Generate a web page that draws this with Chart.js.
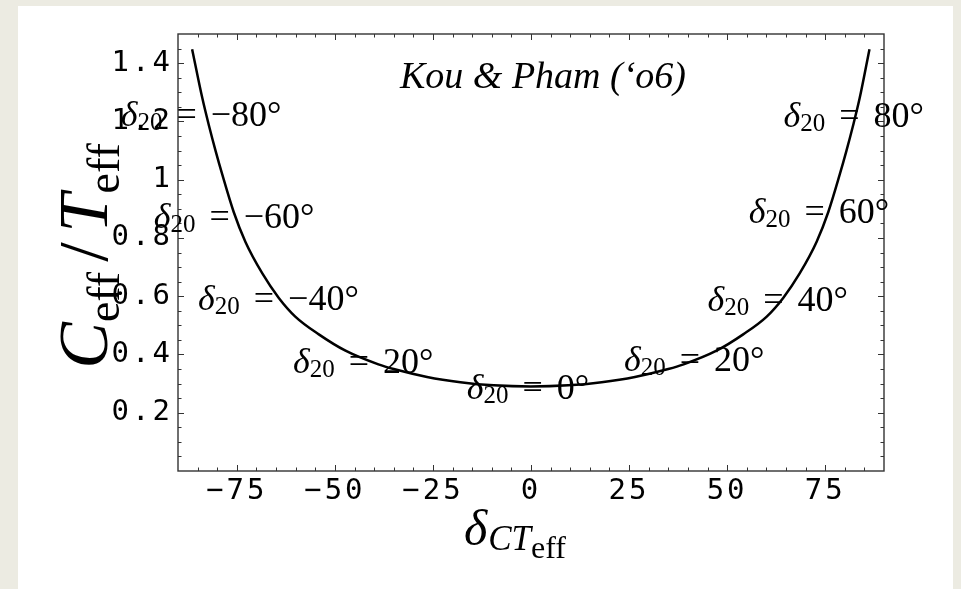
<!DOCTYPE html>
<html>
<head>
<meta charset="utf-8">
<script src="https://cdn.jsdelivr.net/npm/chart.js@4.4.0/dist/chart.umd.min.js"></script>
<style>
  html, body { margin: 0; padding: 0; background: #ecebe2; }
  #wrap { position: relative; width: 961px; height: 589px; overflow: hidden; }
  #panel { position: absolute; left: 18px; top: 6px; width: 935px; height: 583px; background: #fff; }
  canvas { position: absolute; left: 0; top: 0; }
</style>
</head>
<body>
<div id="wrap">
  <div id="panel"></div>
  <canvas id="chart" width="961" height="589"></canvas>
</div>
<script>
// --- curve ---
const deltaCT = [-86.4, -83.8, -82.1, -80.4, -78.7, -75.8, -72.8, -68.5, -64.3, -60.1, -54.1, -47.3, -38.9, -35.0, -26.5, -18.0, -9.5,
                 0, 9.5, 18.0, 26.5, 35.0, 38.9, 47.3, 54.1, 60.1, 64.3, 68.5, 72.8, 75.8, 78.7, 80.4, 82.1, 83.8, 86.3];
const ratio = [1.448, 1.280, 1.185, 1.098, 1.017, 0.889, 0.786, 0.678, 0.594, 0.530, 0.469, 0.413, 0.366, 0.350, 0.323, 0.305, 0.294,
               0.290, 0.294, 0.305, 0.323, 0.350, 0.366, 0.413, 0.469, 0.530, 0.594, 0.678, 0.786, 0.889, 1.017, 1.098, 1.185, 1.280, 1.448];

// --- delta_20 annotations (centre of each label, in data units) ---
const labelX = [-84.1, -75.7, -64.4, -42.8, -0.8, 41.6, 62.9, 73.4, 82.3];
const labelY = [1.224, 0.876, 0.595, 0.379, 0.288, 0.383, 0.591, 0.893, 1.221];
const labelText = ['\u221280\u00b0', '\u221260\u00b0', '\u221240\u00b0', '20\u00b0', '0\u00b0', '20\u00b0', '40\u00b0', '60\u00b0', '80\u00b0'];

// --- axes ---
const xTicks = [-75, -50, -25, 0, 25, 50, 75];
const yTicks = [0.2, 0.4, 0.6, 0.8, 1.0, 1.2, 1.4];
const titleText = 'Kou & Pham (\u2018o6)';

const SERIF = '"Liberation Serif", "DejaVu Serif", serif';

function drawDeltaLabel(ctx, cx, cy, txt) {
  const fMain = '36px ' + SERIF, fItal = 'italic 36px ' + SERIF, fSub = '25px ' + SERIF;
  const gap = 14;
  ctx.font = fItal; const wD = ctx.measureText('\u03b4').width;
  ctx.font = fSub; const wS = ctx.measureText('20').width;
  ctx.font = fMain; const wE = ctx.measureText('=').width; const wT = ctx.measureText(txt).width;
  const total = wD + wS + gap + wE + gap + wT;
  let xx = cx - total / 2;
  const base = cy + 12;
  ctx.textAlign = 'left';
  ctx.textBaseline = 'alphabetic';
  ctx.font = fItal; ctx.fillText('\u03b4', xx, base); xx += wD;
  ctx.font = fSub; ctx.fillText('20', xx, base + 4); xx += wS + gap;
  ctx.font = fMain; ctx.fillText('=', xx, base); xx += wE + gap;
  ctx.fillText(txt, xx, base);
}

const decorations = {
  id: 'decorations',
  beforeLayout(chart) { chart.ctx.letterSpacing = '3px'; },
  beforeDraw(chart) { chart.ctx.letterSpacing = '3px'; },
  afterDraw(chart) {
    const { ctx, chartArea: a, scales: { x, y } } = chart;
    ctx.save();
    ctx.letterSpacing = '0px';

    // frame + inward ticks on all four sides
    ctx.strokeStyle = '#333';
    ctx.lineWidth = 1.4;
    ctx.strokeRect(a.left, a.top, a.right - a.left, a.bottom - a.top);
    ctx.lineWidth = 1;
    ctx.beginPath();
    for (let v = -85; v <= 85; v += 5) {
      const px = Math.round(x.getPixelForValue(v)) + 0.5;
      const len = v % 25 === 0 ? 6 : 3.5;
      ctx.moveTo(px, a.bottom); ctx.lineTo(px, a.bottom - len);
      ctx.moveTo(px, a.top); ctx.lineTo(px, a.top + len);
    }
    for (let i = 1; i < 30; i++) {
      const py = Math.round(y.getPixelForValue(i * 0.05)) + 0.5;
      const len = i % 4 === 0 ? 6 : 3.5;
      ctx.moveTo(a.left, py); ctx.lineTo(a.left + len, py);
      ctx.moveTo(a.right, py); ctx.lineTo(a.right - len, py);
    }
    ctx.stroke();

    ctx.fillStyle = '#000';
    // delta_20 labels
    for (let i = 0; i < labelText.length; i++) {
      drawDeltaLabel(ctx, x.getPixelForValue(labelX[i]), y.getPixelForValue(labelY[i]), labelText[i]);
    }

    // title inside the plot
    ctx.font = 'italic 38px ' + SERIF;
    ctx.textAlign = 'center';
    ctx.fillText(titleText, 543, 88);

    // x axis title: delta_{CT_eff}
    ctx.textAlign = 'left';
    let xx = 464;
    ctx.font = 'italic 50px ' + SERIF; ctx.fillText('\u03b4', xx, 545); xx += ctx.measureText('\u03b4').width + 1;
    ctx.font = 'italic 35px ' + SERIF; ctx.fillText('CT', xx, 550); xx += ctx.measureText('CT').width;
    ctx.font = '32px ' + SERIF; ctx.fillText('eff', xx, 558);

    // y axis title: C_eff / T_eff (rotated)
    ctx.translate(107, 256);
    ctx.rotate(-Math.PI / 2);
    const parts = [
      ['C', 'italic 70px ', 0, 0], ['eff', '46px ', 12, 10], ['/', '70px ', 0, 10], ['T', 'italic 70px ', 0, 0], ['eff', '46px ', 12, 0]
    ];
    let tot = 0;
    parts.forEach(p => { ctx.font = p[1] + SERIF; tot += ctx.measureText(p[0]).width + p[3]; });
    let lx = -tot / 2;
    parts.forEach(p => {
      ctx.font = p[1] + SERIF;
      ctx.fillText(p[0], lx, p[2]);
      lx += ctx.measureText(p[0]).width + p[3];
    });
    ctx.restore();
  }
};

new Chart(document.getElementById('chart').getContext('2d'), {
  type: 'scatter',
  data: {
    datasets: [{
      data: deltaCT.map((d, i) => ({ x: d, y: ratio[i] })),
      showLine: true,
      borderColor: '#000',
      borderWidth: 2.5,
      pointRadius: 0,
      cubicInterpolationMode: 'monotone',
      fill: false
    }]
  },
  options: {
    responsive: false,
    animation: false,
    layout: { padding: { left: 0, right: 77, top: 34, bottom: 0 } },
    plugins: { legend: { display: false }, tooltip: { enabled: false } },
    scales: {
      x: {
        type: 'linear', min: -90, max: 90,
        afterBuildTicks: s => { s.ticks = xTicks.map(v => ({ value: v })); },
        afterFit: s => { s.height = 118; },
        grid: { display: false, drawTicks: false },
        border: { display: false },
        ticks: {
          padding: 3, color: '#000',
          font: { family: 'DejaVu Sans Mono', size: 29 },
          callback: v => (v < 0 ? '\u2212' + Math.abs(v) : String(v))
        }
      },
      y: {
        type: 'linear', min: 0, max: 1.5,
        afterBuildTicks: s => { s.ticks = yTicks.map(v => ({ value: v })); },
        afterFit: s => { s.width = 178; },
        grid: { display: false, drawTicks: false },
        border: { display: false },
        ticks: {
          padding: 5, color: '#000',
          font: { family: 'DejaVu Sans Mono', size: 29 },
          callback: v => String(Math.round(v * 10) / 10)
        }
      }
    }
  },
  plugins: [decorations]
});
</script>
</body>
</html>
